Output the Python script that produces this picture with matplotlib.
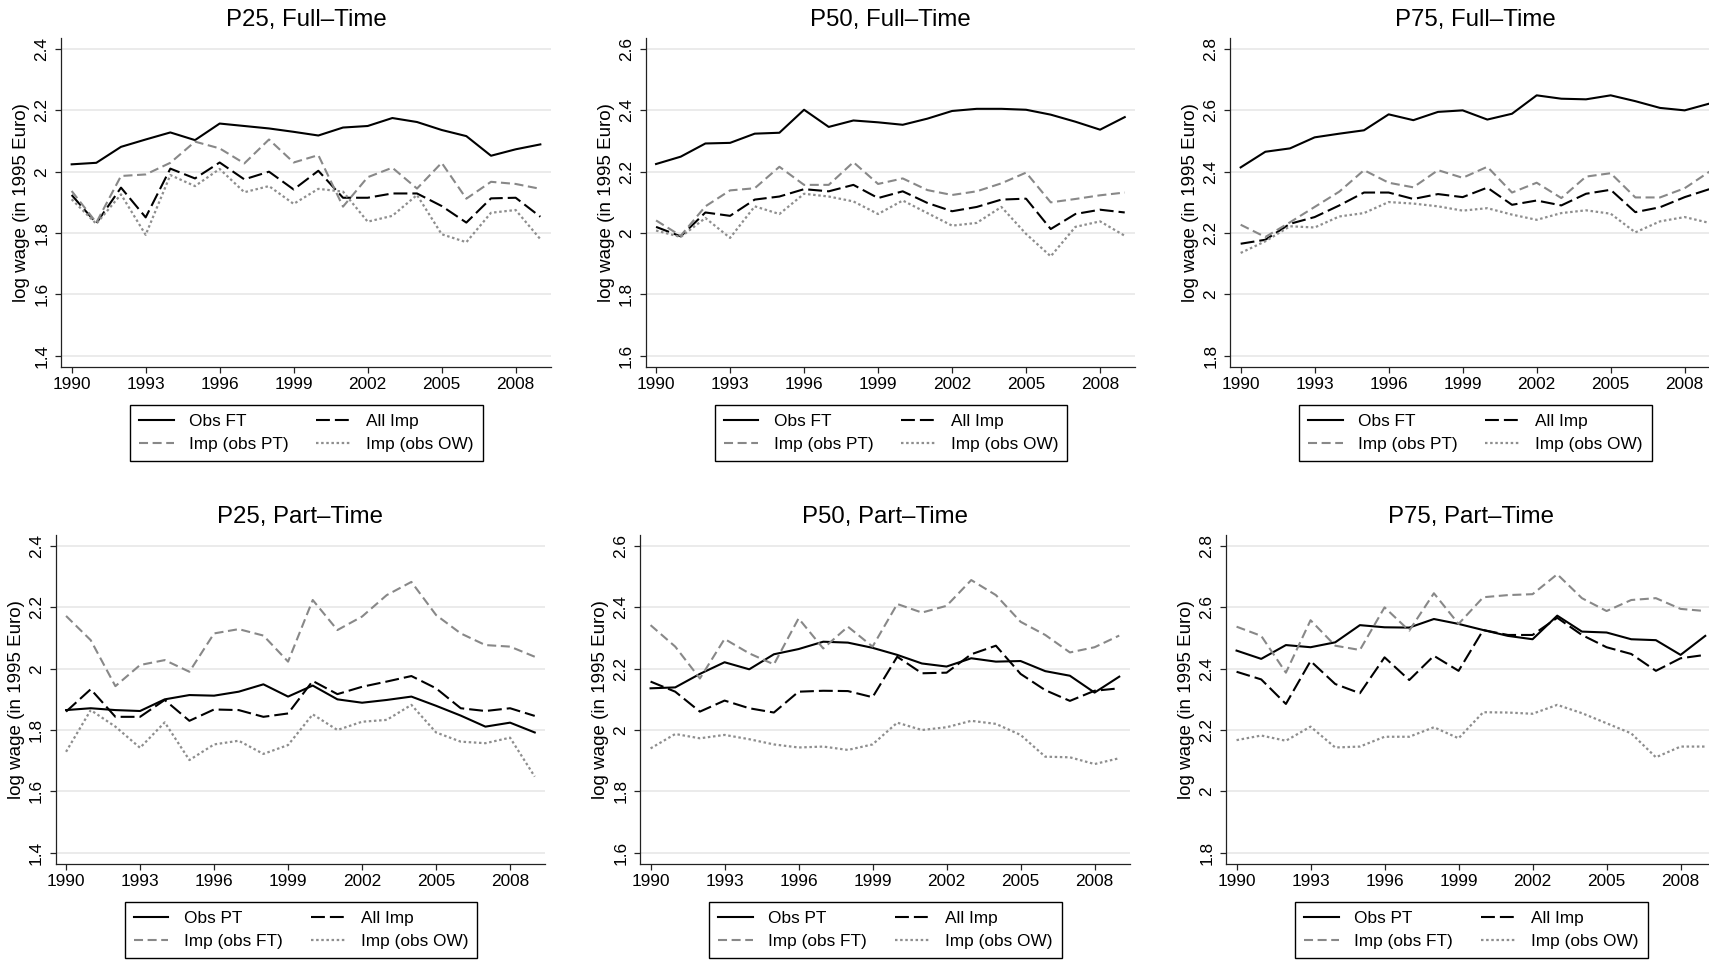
import numpy as np
import matplotlib
matplotlib.use('Agg')
import matplotlib.pyplot as plt

plt.rcParams['font.family'] = ['Liberation Sans', 'DejaVu Sans']
plt.rcParams['lines.scale_dashes'] = False

years = list(range(1990, 2010))
xticks = list(range(1990, 2009, 3))

# P25, full-time
p25_ft_obs = [2.024, 2.029, 2.081, 2.105, 2.128, 2.103, 2.157, 2.149, 2.141, 2.130,
              2.118, 2.144, 2.149, 2.175, 2.162, 2.136, 2.116, 2.052, 2.073, 2.089]
p25_ft_all = [1.924, 1.832, 1.948, 1.851, 2.010, 1.978, 2.030, 1.975, 2.000, 1.942,
              2.003, 1.915, 1.915, 1.929, 1.929, 1.888, 1.834, 1.913, 1.915, 1.853]
p25_ft_oth = [1.937, 1.834, 1.986, 1.991, 2.029, 2.098, 2.076, 2.027, 2.105, 2.030,
              2.054, 1.886, 1.982, 2.013, 1.945, 2.029, 1.912, 1.967, 1.960, 1.944]
p25_ft_ow = [1.910, 1.830, 1.926, 1.794, 1.989, 1.953, 2.009, 1.933, 1.953, 1.895,
             1.944, 1.935, 1.837, 1.856, 1.924, 1.796, 1.770, 1.866, 1.875, 1.780]

# P50, full-time
p50_ft_obs = [2.225, 2.249, 2.292, 2.294, 2.324, 2.327, 2.402, 2.346, 2.367, 2.361,
              2.353, 2.373, 2.398, 2.405, 2.405, 2.402, 2.386, 2.363, 2.337, 2.378]
p50_ft_all = [2.020, 1.989, 2.067, 2.056, 2.109, 2.119, 2.143, 2.136, 2.157, 2.114,
              2.136, 2.098, 2.071, 2.085, 2.109, 2.112, 2.013, 2.062, 2.076, 2.067]
p50_ft_oth = [2.041, 1.991, 2.087, 2.139, 2.146, 2.216, 2.157, 2.157, 2.231, 2.160,
              2.178, 2.140, 2.124, 2.136, 2.162, 2.197, 2.100, 2.111, 2.123, 2.132]
p50_ft_ow = [2.008, 1.987, 2.049, 1.984, 2.087, 2.062, 2.128, 2.119, 2.103, 2.062,
             2.106, 2.065, 2.024, 2.033, 2.085, 1.997, 1.924, 2.020, 2.038, 1.991]

# P75, full-time
p75_ft_obs = [2.414, 2.465, 2.476, 2.512, 2.524, 2.535, 2.587, 2.568, 2.595, 2.600,
              2.570, 2.589, 2.649, 2.638, 2.636, 2.649, 2.630, 2.608, 2.600, 2.622]
p75_ft_all = [2.165, 2.178, 2.230, 2.252, 2.290, 2.332, 2.332, 2.311, 2.327, 2.317,
              2.348, 2.292, 2.306, 2.290, 2.328, 2.341, 2.268, 2.284, 2.317, 2.343]
p75_ft_oth = [2.227, 2.187, 2.235, 2.285, 2.335, 2.405, 2.364, 2.349, 2.405, 2.380,
              2.416, 2.332, 2.364, 2.314, 2.384, 2.395, 2.316, 2.316, 2.346, 2.400]
p75_ft_ow = [2.135, 2.173, 2.222, 2.218, 2.254, 2.265, 2.301, 2.296, 2.287, 2.273,
             2.281, 2.260, 2.243, 2.265, 2.274, 2.263, 2.202, 2.238, 2.252, 2.233]

# P25, part-time
p25_pt_obs = [1.865, 1.871, 1.865, 1.862, 1.900, 1.914, 1.912, 1.925, 1.949, 1.909,
              1.945, 1.900, 1.889, 1.898, 1.909, 1.879, 1.847, 1.811, 1.824, 1.792]
p25_pt_all = [1.860, 1.933, 1.843, 1.843, 1.898, 1.830, 1.867, 1.865, 1.843, 1.854,
              1.960, 1.917, 1.941, 1.958, 1.976, 1.936, 1.871, 1.862, 1.871, 1.846]
p25_pt_oth = [2.172, 2.093, 1.943, 2.012, 2.028, 1.990, 2.115, 2.129, 2.108, 2.023,
              2.224, 2.126, 2.170, 2.240, 2.283, 2.175, 2.115, 2.077, 2.072, 2.039]
p25_pt_ow = [1.729, 1.865, 1.811, 1.742, 1.825, 1.702, 1.753, 1.765, 1.722, 1.751,
             1.851, 1.800, 1.827, 1.833, 1.882, 1.792, 1.762, 1.757, 1.775, 1.648]

# P50, part-time
p50_pt_obs = [2.136, 2.139, 2.183, 2.221, 2.198, 2.247, 2.264, 2.288, 2.285, 2.268,
              2.245, 2.217, 2.207, 2.234, 2.223, 2.225, 2.192, 2.177, 2.122, 2.174]
p50_pt_all = [2.158, 2.125, 2.060, 2.096, 2.071, 2.057, 2.125, 2.128, 2.127, 2.107,
              2.239, 2.185, 2.187, 2.247, 2.275, 2.183, 2.130, 2.095, 2.128, 2.136]
p50_pt_oth = [2.342, 2.272, 2.168, 2.297, 2.250, 2.214, 2.364, 2.266, 2.337, 2.272,
              2.411, 2.383, 2.405, 2.489, 2.440, 2.353, 2.310, 2.253, 2.270, 2.308]
p50_pt_ow = [1.940, 1.987, 1.973, 1.984, 1.970, 1.953, 1.943, 1.946, 1.935, 1.953,
             2.024, 2.000, 2.009, 2.030, 2.020, 1.984, 1.913, 1.911, 1.889, 1.908]

# P75, part-time
p75_pt_obs = [2.459, 2.432, 2.477, 2.470, 2.486, 2.542, 2.535, 2.534, 2.562, 2.546,
              2.526, 2.507, 2.496, 2.573, 2.521, 2.518, 2.496, 2.493, 2.445, 2.507]
p75_pt_all = [2.390, 2.365, 2.285, 2.425, 2.350, 2.320, 2.437, 2.363, 2.442, 2.393,
              2.526, 2.510, 2.510, 2.566, 2.510, 2.470, 2.448, 2.393, 2.434, 2.445]
p75_pt_oth = [2.537, 2.507, 2.387, 2.558, 2.475, 2.461, 2.600, 2.524, 2.646, 2.546,
              2.633, 2.640, 2.643, 2.708, 2.630, 2.588, 2.624, 2.630, 2.595, 2.588]
p75_pt_ow = [2.167, 2.182, 2.165, 2.211, 2.143, 2.146, 2.178, 2.178, 2.209, 2.173,
             2.258, 2.257, 2.253, 2.282, 2.255, 2.222, 2.189, 2.111, 2.146, 2.146]

# title, y-axis low end, series, legend labels
panels = [
    ('P25, Full\u2013Time', 1.4, (p25_ft_obs, p25_ft_all, p25_ft_oth, p25_ft_ow), ('Obs FT', 'Imp (obs PT)')),
    ('P50, Full\u2013Time', 1.6, (p50_ft_obs, p50_ft_all, p50_ft_oth, p50_ft_ow), ('Obs FT', 'Imp (obs PT)')),
    ('P75, Full\u2013Time', 1.8, (p75_ft_obs, p75_ft_all, p75_ft_oth, p75_ft_ow), ('Obs FT', 'Imp (obs PT)')),
    ('P25, Part\u2013Time', 1.4, (p25_pt_obs, p25_pt_all, p25_pt_oth, p25_pt_ow), ('Obs PT', 'Imp (obs FT)')),
    ('P50, Part\u2013Time', 1.6, (p50_pt_obs, p50_pt_all, p50_pt_oth, p50_pt_ow), ('Obs PT', 'Imp (obs FT)')),
    ('P75, Part\u2013Time', 1.8, (p75_pt_obs, p75_pt_all, p75_pt_oth, p75_pt_ow), ('Obs PT', 'Imp (obs FT)')),
]

W, H = 1709, 960
fig = plt.figure(figsize=(W / 100, H / 100), dpi=100)

# axes placement in pixels (left, top); the right column runs off the page
aw, ah = 489.4, 328.7
spots = [(61.3, 38), (645.7, 38), (1230.3, 38),
         (55.7, 535), (640.2, 535), (1226.2, 535)]

for (title, lo, series, labels), (left, top) in zip(panels, spots):
    ax = fig.add_axes([left / W, 1 - (top + ah) / H, aw / W, ah / H])
    obs, allimp, oth, ow = series

    h_obs, = ax.plot(years, obs, color='black', lw=1.5, label=labels[0])
    h_all, = ax.plot(years, allimp, color='black', lw=1.5, dashes=(10, 3.6), label='All Imp')
    h_oth, = ax.plot(years, oth, color='#888888', lw=1.5, dashes=(6.5, 3.3), label=labels[1])
    h_ow, = ax.plot(years, ow, color='#8e8e8e', lw=1.6, dashes=(1.8, 1.9), label='Imp (obs OW)')

    pad = 0.036
    ax.set_xlim(1989.58, 2009.42)
    ax.set_ylim(lo - pad, lo + 1 + pad)
    yt = [round(lo + 0.2 * i, 1) for i in range(6)]
    ax.set_yticks(yt)
    ax.set_yticklabels(['{:g}'.format(v) for v in yt])
    ax.set_xticks(xticks)

    ax.grid(axis='y', color='#e6e6e6', lw=1.1)
    ax.set_axisbelow(True)
    for s in ['top', 'right']:
        ax.spines[s].set_visible(False)
    for s in ['left', 'bottom']:
        ax.spines[s].set_color('#222222')
        ax.spines[s].set_linewidth(0.9)

    ax.tick_params(direction='out', length=4.6, width=0.9, color='#222222',
                   labelsize=12.4, pad=3)
    ax.tick_params(axis='y', labelrotation=90, pad=4)
    for lab in ax.get_yticklabels():
        lab.set_va('center')

    ax.set_ylabel('log wage (in 1995 Euro)', fontsize=13.5, va='center')
    ax.yaxis.set_label_coords(-39.5 / aw, 0.5)

    ax.text(0.5, 1 + 18.4 / ah, title, transform=ax.transAxes,
            ha='center', va='center', fontsize=17.3)

    leg = ax.legend(handles=[h_obs, h_oth, h_all, h_ow], ncol=2,
                    loc='upper center', mode='expand',
                    bbox_to_anchor=(0.141, -0.4, 0.72, 0.4 - 0.118),
                    borderaxespad=0, fancybox=False, framealpha=1,
                    edgecolor='black', fontsize=12.4, handlelength=2.0,
                    handletextpad=0.9, labelspacing=0.45, borderpad=0.52)
    leg.get_frame().set_linewidth(1.0)

fig.savefig('out.png', dpi=100)
